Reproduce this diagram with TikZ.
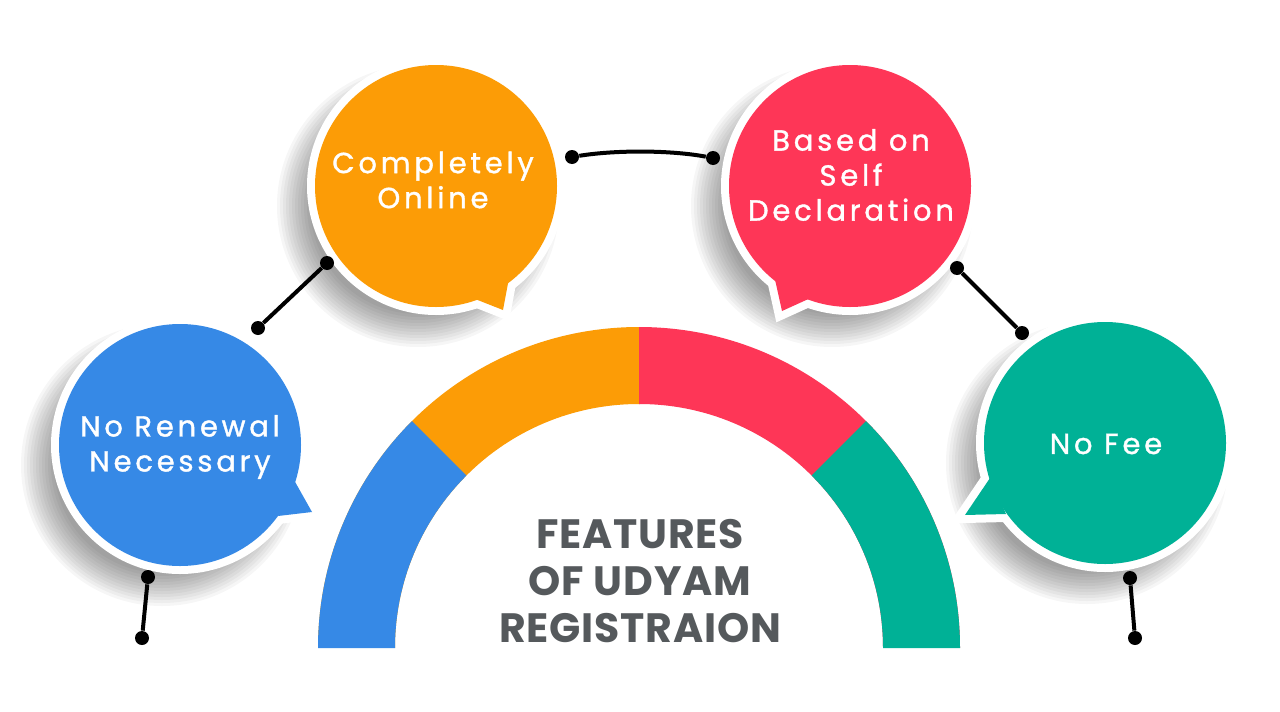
\documentclass[tikz,border=0pt]{standalone}
\usepackage{fontspec}
\setmainfont{Poppins}
\newfontfamily\bubblefont[LetterSpace=13,FakeBold=1.2]{Poppins}
\newfontfamily\titlefont[LetterSpace=2]{Poppins}
\usetikzlibrary{calc}
\definecolor{cblue}{RGB}{54,137,230}
\definecolor{corange}{RGB}{252,156,6}
\definecolor{cred}{RGB}{254,54,87}
\definecolor{cgreen}{RGB}{0,177,150}
\definecolor{ctitle}{RGB}{85,89,92}
\tikzset{
  bubble/.style={circle, inner sep=0pt, minimum size=121pt},
  btext/.style={text=white, align=center, inner sep=0pt, font=\bubblefont\fontsize{14.5}{17.5}\selectfont},
  tailhalo/.style={draw=white, fill=white, line width=8pt, line join=miter},
  dotn/.style={circle, fill=black, inner sep=0pt, minimum size=7pt},
  conn/.style={line width=2pt, draw=black},
  titletext/.style={align=center, text=ctitle, inner sep=0pt, font=\titlefont\bfseries\fontsize{20.5}{23.5}\selectfont},
}
\newcommand\bubshadow[1]{%
  \foreach \k in {0,...,11}{\fill[black, opacity=0.035] ($(#1)+(-18,20)$) circle[radius={141-\k*3}];}}
\begin{document}
\begin{tikzpicture}[x=0.5pt,y=-0.5pt]
\useasboundingbox (0,0) rectangle (1280,712);
\fill[white] (0,0) rectangle (1280,712);
% centres
\coordinate (cB) at (180,445);
\coordinate (cO) at (436,186);
\coordinate (cR) at (850,186);
\coordinate (cG) at (1105,443);
% shadows
\bubshadow{cB}
\bubshadow{cO}
\bubshadow{cR}
\bubshadow{cG}
% ring
\begin{scope}
  \clip (318,648) arc[start angle=180, end angle=360, radius=321]
        -- (883,648) arc[start angle=0, end angle=-180, radius=244] -- cycle;
  \fill[corange] (239,248) rectangle (640,648);
  \fill[cblue] (639,648) -- (239,648) -- (239,248) -- cycle;
  \fill[cred] (639,248) rectangle (1039,648);
  \fill[cgreen] (639,648) -- (1039,648) -- (1039,248) -- cycle;
\end{scope}
% blue bubble
\fill[white] (cB) circle[radius=129];
\filldraw[tailhalo] (294,480) -- (312,512) -- (278,516) -- cycle;
\fill[cblue] (294,480) -- (312,512) -- (278,516) -- cycle;
\node[bubble, fill=cblue] (bB) at (cB) {};
% orange bubble
\fill[white] (cO) circle[radius=129];
\filldraw[tailhalo] (509,278) -- (503,310) -- (470,297) -- cycle;
\fill[corange] (509,278) -- (503,310) -- (470,297) -- cycle;
\node[bubble, fill=corange] (bO) at (cO) {};
% red bubble
\fill[white] (cR) circle[radius=129];
\filldraw[tailhalo] (774,275) -- (782,311) -- (815,296) -- cycle;
\fill[cred] (774,275) -- (782,311) -- (815,296) -- cycle;
\node[bubble, fill=cred] (bR) at (cR) {};
% green bubble
\fill[white] (cG) circle[radius=129];
\filldraw[tailhalo] (990,478) -- (965,515) -- (1006,514) -- cycle;
\fill[cgreen] (990,478) -- (965,515) -- (1006,514) -- cycle;
\node[bubble, fill=cgreen] (bG) at (cG) {};
% texts
\node[btext] (tB) at (180,447) {No Renewal\\Necessary};
\node[btext] (tO) at (433,180) {Completely\\Online};
\node[btext] (tR) at (851,175) {Based on\\Self\\Declaration};
\node[btext] (tG) at (1106,444) {No Fee};
\node[titletext] (title) at (640,581) {FEATURES\\OF UDYAM\\REGISTRAION};
% connectors
\node[dotn] (p1) at (258,328) {};
\node[dotn] (p2) at (327,263) {};
\node[dotn] (p3) at (572,157) {};
\node[dotn] (p4) at (713,158) {};
\node[dotn] (p5) at (957,268) {};
\node[dotn] (p6) at (1022,333) {};
\node[dotn] (p7) at (148,577) {};
\node[dotn] (p8) at (142,638) {};
\node[dotn] (p9) at (1130,578) {};
\node[dotn] (p10) at (1135,638) {};
\draw[conn] (p1) -- (p2);
\draw[conn] (p3) .. controls (615,150) and (670,150) .. (p4);
\draw[conn] (p5) -- (p6);
\draw[conn] (p7) -- (p8);
\draw[conn] (p9) -- (p10);
\end{tikzpicture}
\end{document}
